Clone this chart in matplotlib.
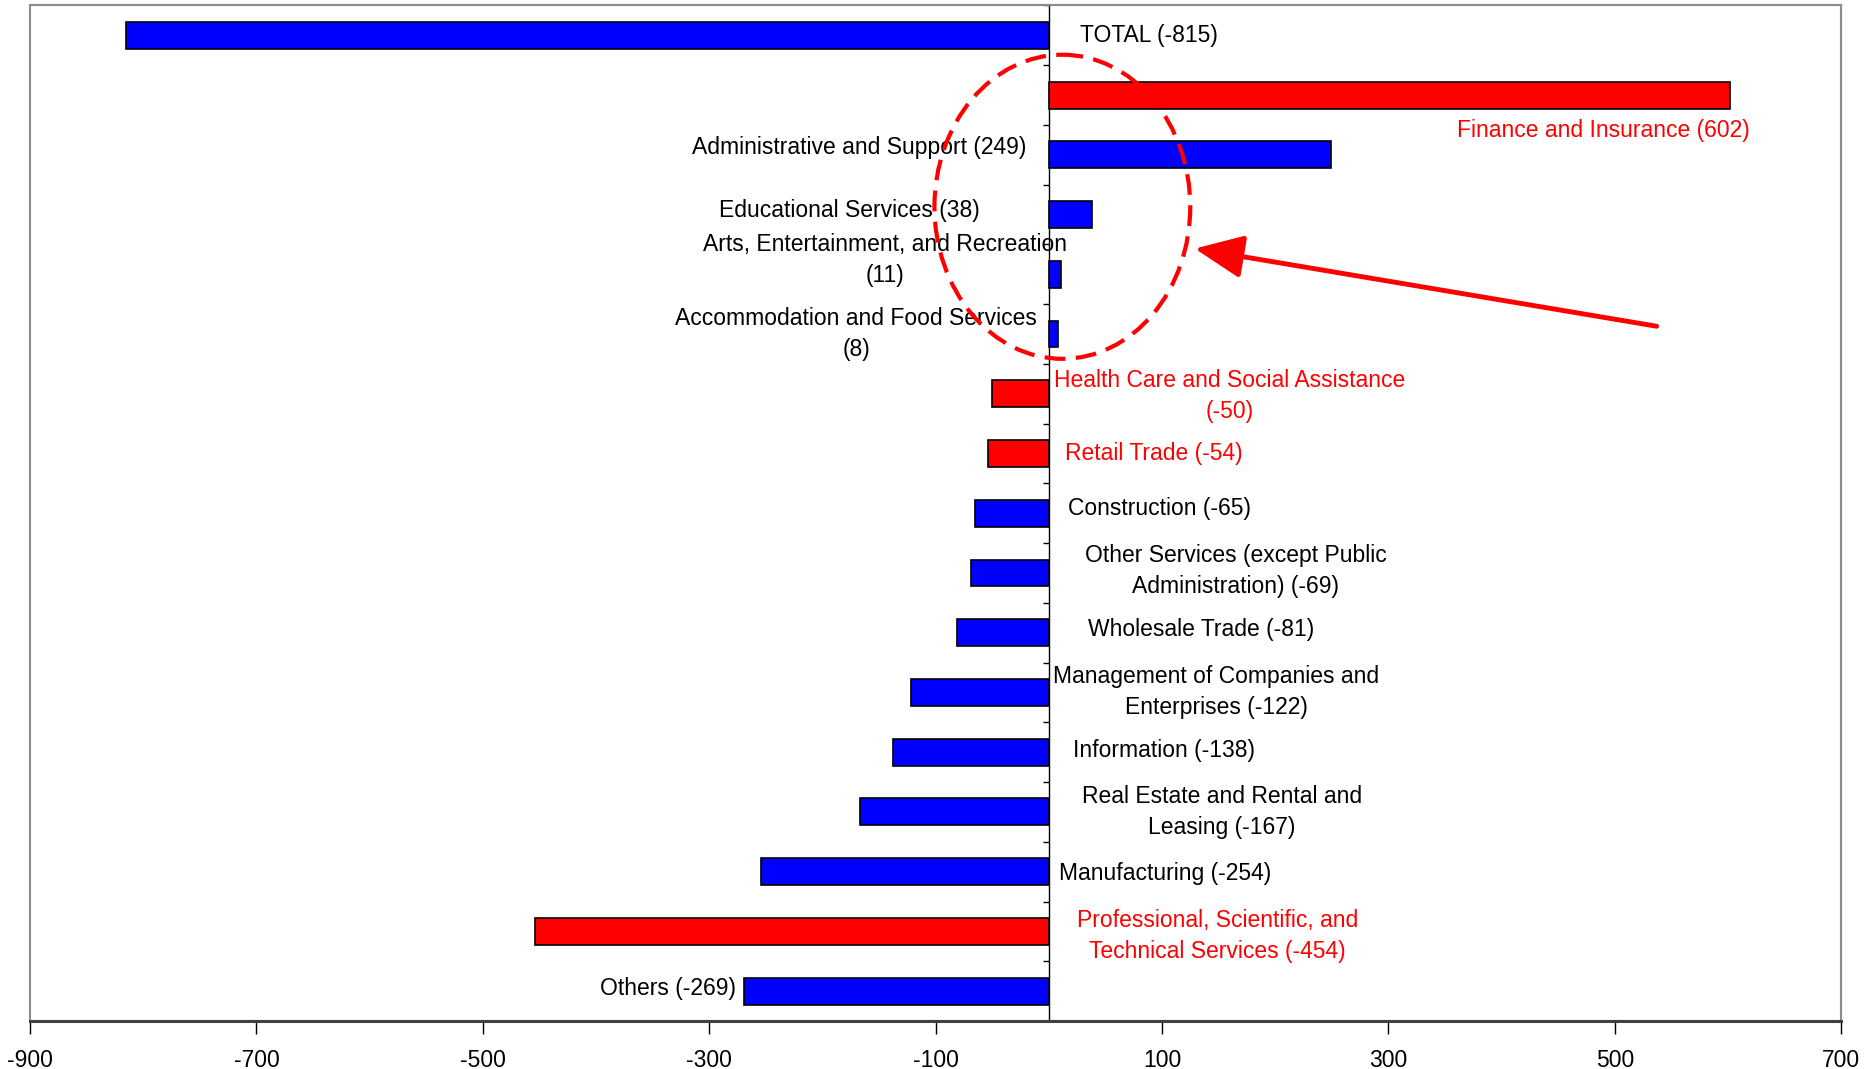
import numpy as np
import matplotlib
matplotlib.use("Agg")
import matplotlib.pyplot as plt
from matplotlib.patches import Ellipse, Rectangle

# -----------------------------
# Data (top to bottom)
# -----------------------------
sectors = [
    "TOTAL",
    "Finance and Insurance",
    "Administrative and Support",
    "Educational Services",
    "Arts, Entertainment, and Recreation\n",
    "Accommodation and Food Services\n",
    "Health Care and Social Assistance\n",
    "Retail Trade",
    "Construction",
    "Other Services (except Public\nAdministration)",
    "Wholesale Trade",
    "Management of Companies and\nEnterprises",
    "Information",
    "Real Estate and Rental and\nLeasing",
    "Manufacturing",
    "Professional, Scientific, and\nTechnical Services",
    "Others",
]
changes = [-815, 602, 249, 38, 11, 8, -50, -54, -65, -69, -81, -122, -138, -167, -254, -454, -269]
highlight = [False, True, False, False, False, False, True, True, False, False,
             False, False, False, False, False, True, False]

# label placement (x in data units, y in category units, alignment)
label_pos = [
    (28, 0.0, "left"),
    (490, 1.6, "center"),
    (-20, 1.88, "right"),
    (-61, 2.93, "right"),
    (-145, 3.76, "center"),
    (-170, 5.0, "center"),
    (160, 6.04, "center"),
    (93, 7.0, "center"),
    (98, 7.92, "center"),
    (165, 8.97, "center"),
    (135, 9.94, "center"),
    (148, 10.99, "center"),
    (102, 11.98, "center"),
    (153, 13.0, "center"),
    (103, 14.03, "center"),
    (149, 15.08, "center"),
    (-276, 15.95, "right"),
]

BLUE = "#0000FF"
RED = "#FF0000"

plt.rcParams.update({
    "font.family": ["Liberation Sans", "DejaVu Sans"],
    "font.size": 16.5,
    "axes.unicode_minus": False,
})

fig = plt.figure(figsize=(18.68, 10.69), dpi=100)
ax = fig.add_axes([0.0161, 0.0449, 0.9695, 0.95])

y = np.arange(len(sectors))
colors = [RED if h else BLUE for h in highlight]
ax.barh(y, changes, height=0.45, color=colors, edgecolor="black", linewidth=1.2, zorder=3)

for name, v, h, (lx, ly, ha) in zip(sectors, changes, highlight, label_pos):
    txt = f"{name} ({v})".replace("\n ", "\n")
    ax.text(lx, ly, txt, ha=ha, va="center", multialignment="center",
            linespacing=1.45, color=RED if h else "black", zorder=5)

ax.set_xlim(-900, 700)
ax.set_ylim(len(sectors) - 0.5, -0.5)

ax.set_xticks(np.arange(-900, 701, 200))
ax.tick_params(axis="x", direction="out", length=9, width=1, pad=11, labelsize=16.5)

# y axis runs through zero with ticks between categories
ax.spines["left"].set_position(("data", 0))
ax.spines["left"].set_color("black")
ax.spines["left"].set_linewidth(1.0)
ax.set_yticks(np.arange(-0.5, len(sectors), 1.0))
ax.set_yticklabels([])
ax.tick_params(axis="y", direction="out", length=4, width=1)

for s in ["top", "right"]:
    ax.spines[s].set_color("#8c8c8c")
    ax.spines[s].set_linewidth(1.5)
ax.spines["bottom"].set_color("#404040")
ax.spines["bottom"].set_linewidth(2.2)
ax.add_patch(Rectangle((0, 0), 1, 1, transform=ax.transAxes, fill=False,
                       edgecolor="#8c8c8c", linewidth=1.5, zorder=1, clip_on=False))

# dashed circle and arrow
ax.add_patch(Ellipse((12, 2.87), 226, 5.09, fill=False, edgecolor=RED,
                     linestyle=(0, (5, 2.5)), linewidth=3, zorder=6))
ax.annotate("", xy=(129, 3.57), xytext=(537, 4.87),
            arrowprops=dict(arrowstyle="-|>,head_length=1.8,head_width=0.8",
                            color=RED, linewidth=3.5, shrinkA=0, shrinkB=0),
            zorder=6)

fig.savefig("out.png", dpi=100)
